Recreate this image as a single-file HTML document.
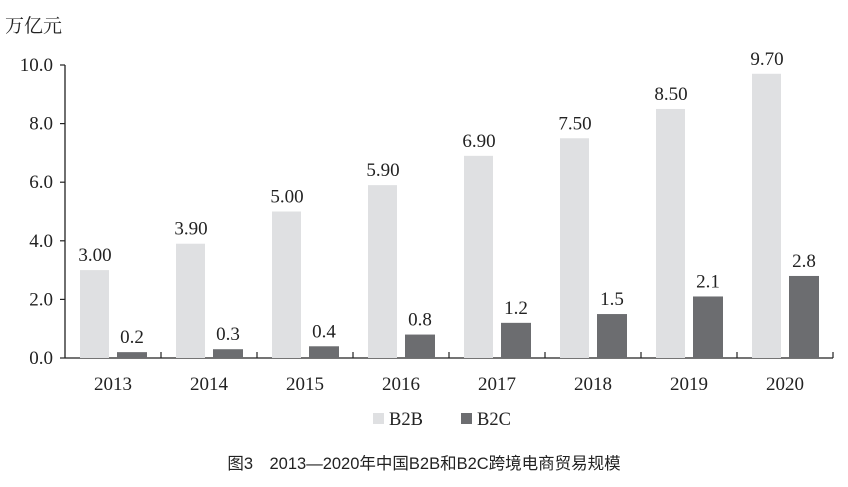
<!DOCTYPE html>
<html><head><meta charset="utf-8"><style>
body{margin:0;background:#fff}
svg text{font-family:"Liberation Serif","Noto Serif CJK SC",serif;fill:#222}
</style></head><body>
<svg width="848" height="482">
<g id="g"></g>
<text x="5" y="32" font-size="19">万亿元</text>
<g>
<rect x="373" y="413" width="11" height="11" fill="#dfe0e2"/>
<text x="389" y="425" font-size="18.5">B2B</text>
<rect x="461" y="413" width="11" height="11" fill="#6c6d70"/>
<text x="477" y="425" font-size="18.5">B2C</text>
</g>
<text x="424" y="469" font-size="16.5" text-anchor="middle" style="font-family:'Liberation Sans','Noto Sans CJK SC',sans-serif" fill="#222">图3　2013—2020年中国B2B和B2C跨境电商贸易规模</text>
</svg>
<script>
const categories=["2013","2014","2015","2016","2017","2018","2019","2020"];
const b2b=[3.00,3.90,5.00,5.90,6.90,7.50,8.50,9.70];
const b2bLabels=["3.00","3.90","5.00","5.90","6.90","7.50","8.50","9.70"];
const b2c=[0.2,0.3,0.4,0.8,1.2,1.5,2.1,2.8];
const b2cLabels=["0.2","0.3","0.4","0.8","1.2","1.5","2.1","2.8"];
const yTicks=[0,2,4,6,8,10];
const yTickLabels=["0.0","2.0","4.0","6.0","8.0","10.0"];
const x0=65,cw=96,yb=358,yt=65,ymax=10,fs=19;
const y=v=>yb-(v/ymax)*(yb-yt);
const g=document.getElementById('g');const NS="http://www.w3.org/2000/svg";
function mk(t,a){const e=document.createElementNS(NS,t);for(const k in a)e.setAttribute(k,a[k]);g.appendChild(e);return e;}
let ax=mk('line',{x1:x0,y1:yt,x2:x0,y2:yb,stroke:'#222','stroke-width':1.3});


let bx=mk('line',{x1:x0,y1:yb,x2:x0+cw*categories.length,y2:yb,stroke:'#222','stroke-width':1.3});


yTicks.forEach((v,i)=>{
 let t=mk('line',{x1:x0-5,y1:y(v),x2:x0,y2:y(v),stroke:'#222','stroke-width':1.2});
 
 
 let l=mk('text',{x:x0-12,y:y(v)+6,'font-size':fs,'text-anchor':'end'});l.textContent=yTickLabels[i];
 
 
});
categories.forEach((c,i)=>{
 const cx=x0+cw*i;
 let t=mk('line',{x1:cx+cw,y1:yb,x2:cx+cw,y2:yb-6,stroke:'#222','stroke-width':1.2});
 
 
 let a=mk('rect',{x:cx+15,y:y(b2b[i]),width:29,height:yb-y(b2b[i]),fill:'#dfe0e2'});
 
 
 let b=mk('rect',{x:cx+52,y:y(b2c[i]),width:30,height:yb-y(b2c[i]),fill:'#6c6d70'});
 
 
 let la=mk('text',{x:cx+30,y:y(b2b[i])-9,'font-size':fs,'text-anchor':'middle'});la.textContent=b2bLabels[i];
 
 
 let lb=mk('text',{x:cx+67,y:y(b2c[i])-9,'font-size':fs,'text-anchor':'middle'});lb.textContent=b2cLabels[i];
 
 
 let xl=mk('text',{x:cx+cw/2,y:yb+32,'font-size':fs,'text-anchor':'middle'});xl.textContent=c;
 
 
});
</script>
</body></html>
